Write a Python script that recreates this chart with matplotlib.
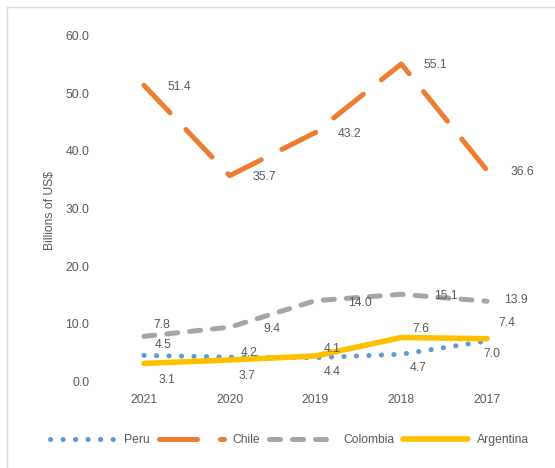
import numpy as np
import matplotlib
matplotlib.use('Agg')
import matplotlib.pyplot as plt
from matplotlib.lines import Line2D

# Data #
years = ['2021', '2020', '2019', '2018', '2017']
peru = [4.5, 4.2, 4.1, 4.7, 7.0]
chile = [51.4, 35.7, 43.2, 55.1, 36.6]
colombia = [7.8, 9.4, 14.0, 15.1, 13.9]
argentina = [3.1, 3.7, 4.4, 7.6, 7.4]

# Styles / label offsets (pixels, right and up) #
TXT = '#595959'
plt.rcParams['font.family'] = ['Liberation Sans', 'DejaVu Sans']
FS = 8.7

series = [
    ('Peru', peru, dict(color='#5B9BD5', lw=3.6, dashes=(0.05, 2.45), dash_capstyle='round'),
     [(19, 10), (19, 4), (17, 9), (17, -14), (5, -13)]),
    ('Chile', chile, dict(color='#ED7D31', lw=3.6, dashes=(7.6, 4.6), dash_capstyle='round'),
     [(35, -2), (35, -1), (34, -1.5), (34, -1), (35, -1.5)]),
    ('Colombia', colombia, dict(color='#A5A5A5', lw=3.6, dashes=(2.2, 2.4), dash_capstyle='round'),
     [(18, 11), (42, -2), (44, -2), (45, -1.4), (29, 1)]),
    ('Argentina', argentina, dict(color='#FFC000', lw=4.0, solid_capstyle='round'),
     [(23, -17), (17, -16), (17, -16), (20, 8.5), (20, 16)]),
]

fig = plt.figure(figsize=(5.55, 4.68), dpi=100)
ax = fig.add_axes([101 / 555, 1 - 381.3 / 468, 429 / 555, 345.6 / 468])

x = np.arange(len(years))
handles = []
for name, vals, style, offs in series:
    ln, = ax.plot(x, vals, label=name, **style)
    handles.append(ln)
    for xi, v, (dx, dy) in zip(x, vals, offs):
        ax.annotate(f'{v:.1f}', (xi, v), xytext=(dx, dy), textcoords='offset pixels',
                    ha='center', va='center', fontsize=FS, color=TXT)

ax.set_xlim(-0.5, 4.5)
ax.set_ylim(0, 60)
ax.set_xticks(x)
ax.set_xticklabels(years)
ax.set_yticks(np.arange(0, 61, 10))
ax.set_yticklabels([f'{t:.1f}' for t in np.arange(0, 61, 10)])
ax.tick_params(length=0, labelsize=FS, colors=TXT)
ax.tick_params(axis='y', pad=8.5)
ax.tick_params(axis='x', pad=9)
for s in ax.spines.values():
    s.set_visible(False)

fig.text(50 / 555, 1 - 210 / 468, 'Billions of US$', rotation=90, ha='center', va='center',
         fontsize=FS, color=TXT)

leg = fig.legend(handles=handles, loc='center', bbox_to_anchor=(0.522, 1 - 440 / 468), ncol=4,
                 frameon=False, fontsize=FS, handlelength=5.4, handletextpad=0.7,
                 columnspacing=0.75)
for t in leg.get_texts():
    t.set_color(TXT)

# light gray chart border (left and top)
fig.add_artist(Line2D([7 / 555, 7 / 555], [0, 1 - 7 / 468], color='#D9D9D9', lw=1.0))
fig.add_artist(Line2D([7 / 555, 1], [1 - 7 / 468, 1 - 7 / 468], color='#D9D9D9', lw=1.0))

fig.savefig('out.png', dpi=100)
